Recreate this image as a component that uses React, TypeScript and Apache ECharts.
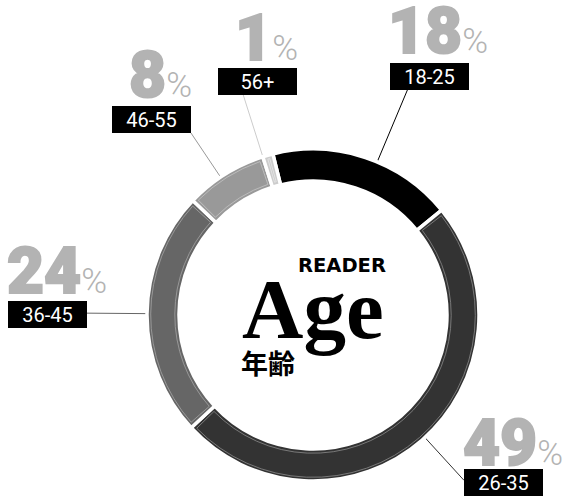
import { useEffect, useRef } from 'react';
import * as echarts from 'echarts';

// ---- data ----
const categories = ['18-25', '26-35', '36-45', '46-55', '56+'];
const shares = [18, 49, 24, 8, 1];
const sliceColors = ['#000000', '#333333', '#666666', '#999999', '#cccccc'];
const outlineColors = ['rgba(0,0,0,0)', '#8a8a8a', '#a4a4a4', '#c4c4c4', '#e8e8e8'];
const numberColor = '#b3b3b3';

// ---- layout (label placement) ----
const CX = 313;
const CY = 315;
const RING_EDGE = 164.3;
// top-left corner of each black category box
const boxPos: number[][] = [[390, 63], [464, 469], [8, 301], [112, 106], [218, 68]];
// where the leader line meets the box (fraction of box width / height)
const lineAnchor: number[][] = [[0.22, 1], [0, 0.42], [1, 0.45], [1, 1], [0.32, 1]];
// big number: x, digit baseline, alignment
const numPos: [number, number, string][] = [
  [388, 53, 'left'],
  [463, 465, 'left'],
  [7, 293, 'left'],
  [192, 97, 'right'],
  [298, 60, 'right'],
];
const NUM_BASE_OFFSET = 49.9;

export default function App() {
  const ref = useRef<HTMLDivElement>(null);
  useEffect(() => {
    const chart = echarts.init(ref.current!, null, { renderer: 'svg' });
    const ringData = categories.map((name, i) => ({
      name,
      value: shares[i],
      itemStyle: { color: sliceColors[i] },
      labelLine: { lineStyle: { color: sliceColors[i] } },
    }));
    const outlineData = categories.map((name, i) => ({
      name,
      value: shares[i],
      itemStyle: { color: 'rgba(0,0,0,0)', borderColor: outlineColors[i] },
    }));
    chart.setOption({
      animation: false,
      series: [
        {
          type: 'pie',
          center: [CX, CY],
          radius: [134, 166],
          startAngle: 104,
          clockwise: true,
          avoidLabelOverlap: false,
          silent: true,
          emphasis: { disabled: true },
          itemStyle: { borderColor: '#ffffff', borderWidth: 3.5 },
          label: {
            show: true,
            position: 'outside',
            formatter: '{t|{b}}',
            backgroundColor: '#000000',
            padding: [0, 12],
            rich: {
              t: {
                color: '#ffffff',
                fontFamily: 'Roboto',
                fontSize: 20,
                lineHeight: 27,
                width: 55,
                align: 'center',
              },
            },
          },
          labelLine: { show: true, length: 10, length2: 0, lineStyle: { width: 1 } },
          labelLayout: (p: any) => {
            const i = p.dataIndex;
            const [bx, by] = boxPos[i];
            const w = p.labelRect.width;
            const h = p.labelRect.height;
            const ex = bx + w * lineAnchor[i][0];
            const ey = by + h * lineAnchor[i][1];
            const dx = ex - CX;
            const dy = ey - CY;
            const d = Math.hypot(dx, dy);
            const sx = CX + (dx / d) * RING_EDGE;
            const sy = CY + (dy / d) * RING_EDGE;
            return {
              x: bx,
              y: by,
              align: 'left',
              verticalAlign: 'top',
              labelLinePoints: [[sx, sy], [ex, ey]],
            };
          },
          data: ringData,
        },
        {
          type: 'pie',
          center: [CX, CY],
          radius: [138.2, 162.3],
          startAngle: 104,
          clockwise: true,
          padAngle: 2.9,
          avoidLabelOverlap: false,
          silent: true,
          emphasis: { disabled: true },
          itemStyle: { borderWidth: 0.8 },
          label: {
            show: true,
            position: 'outside',
            formatter: '{n|{c}}{p|%}',
            rich: {
              n: {
                color: numberColor,
                fontFamily: 'Roboto',
                fontWeight: 900,
                fontSize: 64,
                lineHeight: 56,
                textBorderColor: numberColor,
                textBorderWidth: 2,
              },
              p: {
                color: numberColor,
                fontFamily: 'Roboto',
                fontWeight: 300,
                fontSize: 35,
                lineHeight: 36,
                verticalAlign: 'bottom',
              },
            },
          },
          labelLine: { show: false },
          labelLayout: (p: any) => {
            const [x, base, align] = numPos[p.dataIndex];
            return { x, y: base - NUM_BASE_OFFSET, align, verticalAlign: 'top' };
          },
          data: outlineData,
        },
      ],
      graphic: [
        {
          type: 'text',
          x: 298,
          y: 265,
          style: {
            text: 'READER',
            fill: '#000000',
            fontFamily: '"DejaVu Sans"',
            fontWeight: 'bold',
            fontSize: 19.5,
            lineHeight: 20,
            align: 'left',
            verticalAlign: 'middle',
          },
        },
        {
          type: 'text',
          x: 242,
          y: 309,
          style: {
            text: 'Age',
            fill: '#000000',
            fontFamily: '"Liberation Serif", serif',
            fontWeight: 'bold',
            fontSize: 85,
            lineHeight: 60,
            align: 'left',
            verticalAlign: 'middle',
          },
        },
        {
          type: 'text',
          x: 241,
          y: 362,
          style: {
            text: '年齢',
            fill: '#000000',
            fontFamily: '"Noto Sans CJK JP"',
            fontWeight: 'bold',
            fontSize: 27,
            lineHeight: 28,
            align: 'left',
            verticalAlign: 'middle',
          },
        },
      ],
    });
    return () => chart.dispose();
  }, []);
  return (
    <div
      ref={ref}
      style={{ position: 'absolute', left: 0, top: 0, width: 565, height: 499 }}
    />
  );
}
